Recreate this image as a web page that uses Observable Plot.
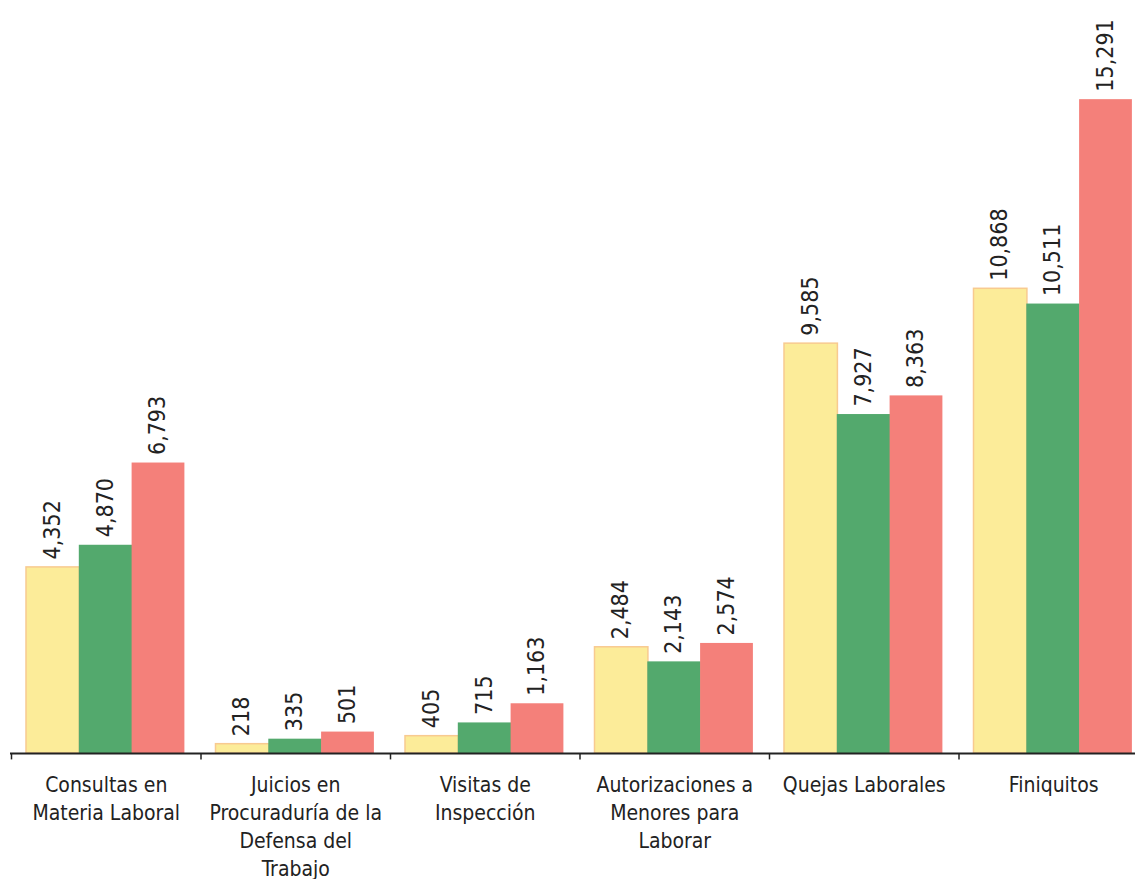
<!DOCTYPE html>
<html>
<head>
<meta charset="utf-8">
<script src="https://cdn.jsdelivr.net/npm/d3@7"></script>
<script src="https://cdn.jsdelivr.net/npm/@observablehq/plot@0.6"></script>
<style>
  html, body { margin: 0; padding: 0; background: #fff; }
  #chart svg { display: block; }
</style>
</head>
<body>
<div id="chart"></div>
<script>
const categories = [
  "Consultas en\nMateria Laboral",
  "Juicios en\nProcuraduría de la\nDefensa del\nTrabajo",
  "Visitas de\nInspección",
  "Autorizaciones a\nMenores para\nLaborar",
  "Quejas Laborales",
  "Finiquitos"
];
const series = ["A", "B", "C"];
const valuesA = [4352, 218, 405, 2484, 9585, 10868];
const valuesB = [4870, 335, 715, 2143, 7927, 10511];
const valuesC = [6793, 501, 1163, 2574, 8363, 15291];

const colors = {A: "#FCEC99", B: "#53A96D", C: "#F4807A"};
const strokes = {A: "#F8CA90", B: "#53A96D", C: "#F4807A"};

const rowsA = categories.map((c, i) => ({cat: c, value: valuesA[i]}));
const rowsB = categories.map((c, i) => ({cat: c, value: valuesB[i]}));
const rowsC = categories.map((c, i) => ({cat: c, value: valuesC[i]}));

const fmt = d3.format(",");
const x0 = 11, step = 189.5;
const barW = 52.8;
const gap = 15;

function barsFor(rows, k, idx) {
  const left = gap + idx * barW;
  const right = step - left - barW - (idx < 2 ? 0.6 : 0);
  return Plot.barY(rows, {
    x: "cat", y: "value",
    fill: colors[k],
    stroke: k === "A" ? strokes[k] : "none",
    strokeWidth: 1.5,
    insetLeft: left, insetRight: right
  });
}
function labelsFor(rows, idx) {
  return Plot.text(rows, {
    x: "cat", y: "value",
    text: d => fmt(d.value),
    rotate: -90,
    textAnchor: "start",
    lineAnchor: "middle",
    dx: (idx - 1) * barW - 1,
    dy: -8,
    fontSize: 23,
    fill: "#222"
  });
}

const chart = Plot.plot({
  width: 1135,
  height: 879,
  marginLeft: 10,
  marginRight: 0,
  marginTop: 0,
  marginBottom: 126,
  style: {fontFamily: "'DejaVu Sans Condensed', 'DejaVu Sans', sans-serif", background: "#fff"},
  x: {domain: categories, range: [x0, x0 + step * categories.length], padding: 0, round: false, axis: null},
  y: {domain: [0, 17610], range: [753, 0], axis: null},
  marks: [
    barsFor(rowsA, "A", 0),
    barsFor(rowsB, "B", 1),
    barsFor(rowsC, "C", 2),
    labelsFor(rowsA, 0),
    labelsFor(rowsB, 1),
    labelsFor(rowsC, 2),
    Plot.ruleY([0], {stroke: "#222", strokeWidth: 2}),
    Plot.ruleX(categories, {x: d => d, dx: -step / 2, y1: 0, y2: -150, stroke: "#222", strokeWidth: 1.5}),
    Plot.text(categories, {
      x: d => d, y: 0, text: d => d,
      lineAnchor: "top", dy: 19, lineHeight: 1.333,
      fontSize: 21, fill: "#222"
    })
  ]
});
document.getElementById("chart").appendChild(chart);
</script>
</body>
</html>
